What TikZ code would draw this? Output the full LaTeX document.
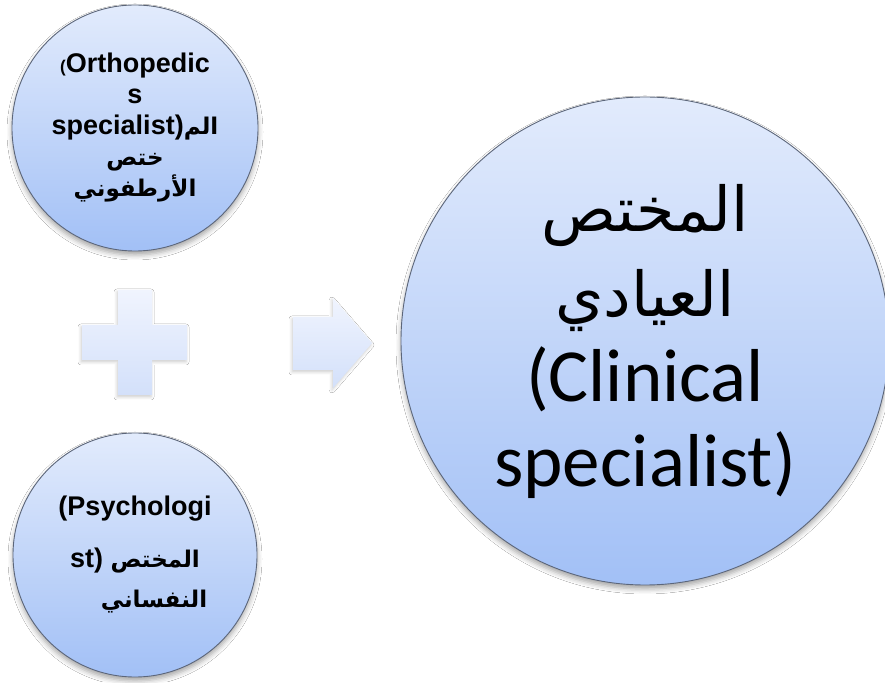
\documentclass[tikz,border=0pt]{standalone}
\usepackage{fontspec}
\setmainfont{Liberation Sans}
\newfontfamily\arabicfont[Script=Arabic]{DejaVu Sans}
\newfontfamily\calibrifont{Carlito}
\usetikzlibrary{shadows.blur}
\TeXXeTstate=1

\definecolor{circtop}{RGB}{226,235,252}
\definecolor{circbot}{RGB}{162,192,246}
\definecolor{rimcol}{RGB}{92,102,122}
\definecolor{symtop}{RGB}{240,244,254}
\definecolor{symbot}{RGB}{211,224,250}

\newcommand{\arsmall}{\arabicfont\fontsize{23}{31}\selectfont}
\newcommand{\arbig}{\arabicfont\fontsize{62}{85}\selectfont}
\newcommand{\smallparen}{{\fontsize{17}{31}\selectfont(}}

\tikzset{
  bubble/.style={circle, draw=rimcol, line width=0.9pt,
    top color=circtop, bottom color=circbot,
    align=center, inner sep=0pt, text=black,
    blur shadow={shadow xshift=0pt, shadow yshift=-4pt,
      shadow blur radius=5pt, shadow opacity=35}},
  smalltext/.style={font=\fontsize{27}{31}\selectfont\bfseries},
  bigtext/.style={font=\calibrifont\fontsize{75}{85}\selectfont},
  symbolshape/.style={top color=symtop, bottom color=symbot, draw=none,
    blur shadow={shadow xshift=-1pt, shadow yshift=-2pt,
      shadow blur radius=3pt, shadow opacity=20}}
}

\begin{document}
\begin{tikzpicture}[x=1pt,y=1pt]
  % page
  \path[use as bounding box, fill=white] (0,0) rectangle (885,682);

  % orthopedics specialist
  \node[bubble, smalltext, minimum size=246pt] (ortho) at (135,554)
    {\smallparen Orthopedic\\
     s\\
     specialist){\arsmall\beginR الم\endR}\\
     {\arsmall\beginR ختص\endR}\\
     {\arsmall\beginR الأرطفوني\endR}};

  % psychologist
  \node[bubble, smalltext, minimum size=244pt] (psych) at (135,127)
    {(Psychologi\\[21pt]
     st) {\arsmall\beginR المختص\endR}\\[9pt]
     \hspace*{38pt}{\arsmall\beginR النفساني\endR}};

  % clinical specialist
  \node[bubble, bigtext, minimum size=488pt] (clin) at (645,341)
    {{\arbig\beginR المختص\endR}\\
     {\arbig\beginR العيادي\endR}\\
     (Clinical\\
     specialist)};

  % plus sign
  \path[symbolshape] (118,392) -- (152,392) -- (152,357) -- (187,357)
    -- (187,322) -- (152,322) -- (152,287) -- (118,287) -- (118,322)
    -- (82,322) -- (82,357) -- (118,357) -- cycle;

  % arrow
  \path[symbolshape] (293,365) -- (333,365) -- (333,384) -- (372,339)
    -- (333,294) -- (333,312) -- (293,312) -- cycle;
\end{tikzpicture}
\end{document}
